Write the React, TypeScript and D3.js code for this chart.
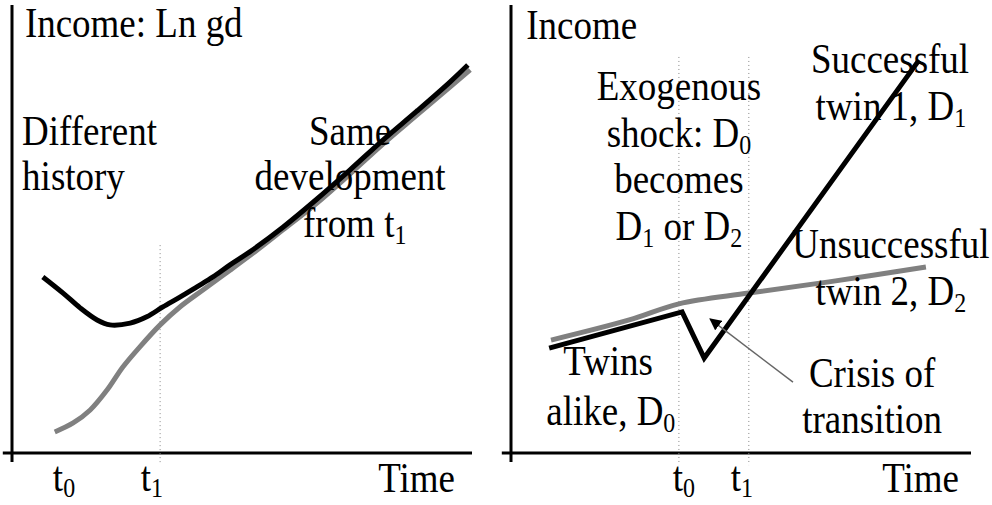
import * as d3 from 'd3';

// Left panel: different history, same development from t1
const leftBlackTime = [6.7, 11.1, 14.8, 18.5, 21.3, 25.7, 29.3, 32.8, 36.5, 40.2, 43.7, 47.4, 51.7, 58.9, 66.3, 73.5, 80.7, 88.0, 95.2, 99.1];
const leftBlackIncome = [39.3, 35.7, 32.4, 29.7, 28.6, 29.0, 30.4, 32.6, 34.8, 37.1, 39.3, 42.0, 44.9, 50.4, 56.7, 63.2, 69.9, 76.3, 82.8, 86.6];
const leftGrayTime = [9.3, 13.3, 17.0, 20.7, 24.1, 27.8, 32.2, 36.5, 41.5, 47.4, 53.3, 58.9, 66.3, 73.5, 80.7, 88.0, 95.2, 99.6];
const leftGrayIncome = [4.7, 6.7, 9.6, 14.1, 19.2, 23.7, 28.6, 32.6, 36.4, 40.8, 45.3, 49.8, 55.8, 62.3, 69.0, 75.4, 81.7, 85.5];

// Right panel: twins, shock at t0, split after t1
const rightBlackTime = [8.3, 37.2, 42.0, 88.7];
const rightBlackIncome = [23.4, 31.5, 21.2, 87.7];
const rightGrayTime = [8.7, 25.7, 36.5, 51.7, 69.1, 90.2];
const rightGrayIncome = [25.2, 29.7, 33.3, 35.7, 38.2, 41.5];

const leftTickLabels = ['t_0', 't_1'];
const leftTickTimes = [11.3, 30.4];
const rightTickLabels = ['t_0', 't_1'];
const rightTickTimes = [37.6, 50.2];
const leftMarkTimes = [32.2];
const rightMarkTimes = [36.5, 51.7];

const FONT = "'Liberation Serif','Times New Roman',serif";

const zip = (a: number[], b: number[]) => a.map((v, i) => [v, b[i]] as [number, number]);

function Label({ x, y, text, anchor = 'middle', sub = 6 }: { x: number; y: number; text: string; anchor?: string; sub?: number }) {
  // "_0" marks a subscript
  const parts = text.split(/_(\d)/);
  return (
    <text transform={`translate(${x},${y}) scale(1,1.12)`} textAnchor={anchor} fontSize={37} fontFamily={FONT} fill="#000">
      {parts.map((p, i) =>
        i % 2 === 1 ? (
          <tspan key={i} fontSize={24} dy={sub}>{p}</tspan>
        ) : (
          <tspan key={i} dy={i > 0 ? -sub : 0}>{p}</tspan>
        )
      )}
    </text>
  );
}

function Panel({ left, children }: { left: number; children: (x: any, y: any) => any }) {
  const x = d3.scaleLinear().domain([0, 100]).range([left + 12, left + 472]);
  const y = d3.scaleLinear().domain([0, 100]).range([453, 5]);
  return (
    <g>
      <line x1={x(0)} x2={x(0)} y1={y(100)} y2={y(-2)} stroke="#000" strokeWidth={3} />
      <line x1={x(-2)} x2={x(100)} y1={y(0)} y2={y(0)} stroke="#000" strokeWidth={3} />
      {children(x, y)}
    </g>
  );
}

export default function App() {
  const smooth = (x: any, y: any) =>
    d3.line<[number, number]>().x(d => x(d[0])).y(d => y(d[1])).curve(d3.curveCatmullRom.alpha(0.5));
  const straight = (x: any, y: any) =>
    d3.line<[number, number]>().x(d => x(d[0])).y(d => y(d[1]));

  return (
    <svg width={992} height={505} style={{ position: 'absolute', left: 0, top: 0, background: '#fff' }}>
      <defs>
        <marker id="arrow" viewBox="0 0 10 10" refX={9} refY={5} markerWidth={12} markerHeight={12} markerUnits="userSpaceOnUse" orient="auto">
          <path d="M0,0 L10,5 L0,10 z" fill="#000" />
        </marker>
      </defs>

      <Panel left={0}>
        {(x, y) => (
          <g>
            {leftMarkTimes.map((t, i) => (
              <line key={i} x1={x(t)} x2={x(t)} y1={y(46.4)} y2={y(-2.7)} stroke="#888" strokeWidth={1} strokeDasharray="1,3" />
            ))}
            <path d={smooth(x, y)(zip(leftGrayTime, leftGrayIncome)) || ''} fill="none" stroke="#808080" strokeWidth={5} />
            <path d={smooth(x, y)(zip(leftBlackTime, leftBlackIncome)) || ''} fill="none" stroke="#000" strokeWidth={5} />
            <Label x={x(2.8)} y={y(92.9)} text="Income: Ln gd" anchor="start" />
            <Label x={x(2.2)} y={y(68.8)} text="Different" anchor="start" />
            <Label x={x(2.2)} y={y(58.7)} text="history" anchor="start" />
            <Label x={x(73.5)} y={y(68.8)} text="Same" />
            <Label x={x(73.5)} y={y(58.7)} text="development" />
            <Label x={x(74.5)} y={y(48.2)} text="from t_1" />
            {leftTickLabels.map((t, i) => (
              <Label key={t} x={x(leftTickTimes[i])} y={y(-8.5)} text={t} sub={5} />
            ))}
            <Label x={x(96.3)} y={y(-8.8)} text="Time" anchor="end" />
          </g>
        )}
      </Panel>

      <Panel left={499}>
        {(x, y) => (
          <g>
            {rightMarkTimes.map((t, i) => (
              <line key={i} x1={x(t)} x2={x(t)} y1={y(88.4)} y2={y(-2.7)} stroke="#888" strokeWidth={1} strokeDasharray="1,3" />
            ))}
            <path d={smooth(x, y)(zip(rightGrayTime, rightGrayIncome)) || ''} fill="none" stroke="#808080" strokeWidth={5} />
            <path d={straight(x, y)(zip(rightBlackTime, rightBlackIncome)) || ''} fill="none" stroke="#000" strokeWidth={5} strokeLinejoin="miter" />
            <line x1={x(61.3)} y1={y(15.8)} x2={x(43.3)} y2={y(29.9)} stroke="#666" strokeWidth={1.5} markerEnd="url(#arrow)" />
            <Label x={x(3.3)} y={y(92.5)} text="Income" anchor="start" />
            <Label x={x(36.5)} y={y(78.8)} text="Exogenous" />
            <Label x={x(36.5)} y={y(68.3)} text="shock: D_0" />
            <Label x={x(36.5)} y={y(58.0)} text="becomes" />
            <Label x={x(36.5)} y={y(47.5)} text="D_1 or D_2" />
            <Label x={x(82.4)} y={y(84.8)} text="Successful" />
            <Label x={x(82.6)} y={y(74.3)} text="twin 1, D_1" />
            <Label x={x(82.6)} y={y(43.5)} text="Unsuccessful" />
            <Label x={x(82.6)} y={y(33.0)} text="twin 2, D_2" />
            <Label x={x(21.1)} y={y(17.4)} text="Twins" />
            <Label x={x(21.7)} y={y(6.3)} text="alike, D_0" />
            <Label x={x(78.5)} y={y(14.7)} text="Crisis of" />
            <Label x={x(78.5)} y={y(4.5)} text="transition" />
            {rightTickLabels.map((t, i) => (
              <Label key={t} x={x(rightTickTimes[i])} y={y(-8.5)} text={t} sub={5} />
            ))}
            <Label x={x(97.4)} y={y(-8.8)} text="Time" anchor="end" />
          </g>
        )}
      </Panel>
    </svg>
  );
}
